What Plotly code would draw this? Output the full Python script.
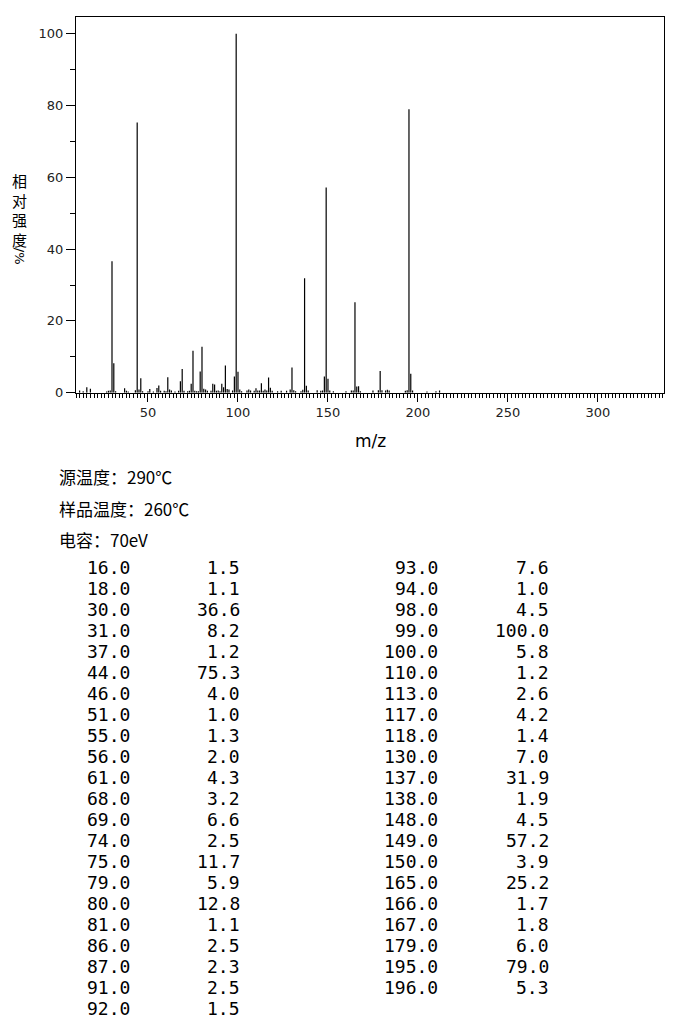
import plotly.graph_objects as go

# peaks listed in the table below the chart
mz_left = [16.0, 18.0, 30.0, 31.0, 37.0, 44.0, 46.0, 51.0, 55.0, 56.0, 61.0,
           68.0, 69.0, 74.0, 75.0, 79.0, 80.0, 81.0, 86.0, 87.0, 91.0, 92.0]
int_left = [1.5, 1.1, 36.6, 8.2, 1.2, 75.3, 4.0, 1.0, 1.3, 2.0, 4.3,
            3.2, 6.6, 2.5, 11.7, 5.9, 12.8, 1.1, 2.5, 2.3, 2.5, 1.5]
mz_right = [93.0, 94.0, 98.0, 99.0, 100.0, 110.0, 113.0, 117.0, 118.0, 130.0, 137.0,
            138.0, 148.0, 149.0, 150.0, 165.0, 166.0, 167.0, 179.0, 195.0, 196.0]
int_right = [7.6, 1.0, 4.5, 100.0, 5.8, 1.2, 2.6, 4.2, 1.4, 7.0, 31.9,
             1.9, 4.5, 57.2, 3.9, 25.2, 1.7, 1.8, 6.0, 79.0, 5.3]

# tiny peaks (< 1 %) visible on the spectrum but not in the table, estimated
minor_mz = [12, 14, 27, 28, 29, 32, 38, 39, 43, 45, 47, 50, 53, 57, 59, 60, 62, 63,
            65, 67, 70, 72, 73, 76, 77, 78, 82, 83, 85, 88, 89, 90, 95, 97, 101,
            102, 105, 106, 107, 109, 111, 112, 114, 115, 116, 119, 122, 124, 127,
            129, 131, 132, 135, 136, 139, 144, 146, 147, 151, 153, 160, 163, 164,
            168, 175, 178, 180, 182, 183, 184, 193, 194, 197, 205, 210, 212]
minor_int = [0.6, 0.4, 0.3, 0.5, 0.6, 0.4, 0.5, 0.3, 0.7, 0.9, 0.4, 0.4, 0.3, 0.5,
             0.5, 0.4, 0.9, 0.6, 0.3, 0.5, 0.5, 0.4, 0.5, 0.5, 0.4, 0.4, 0.9, 0.5,
             0.5, 0.5, 0.6, 0.4, 0.9, 0.6, 0.9, 0.4, 0.6, 0.9, 0.6, 0.5, 0.6, 0.6,
             0.5, 0.9, 0.6, 0.5, 0.4, 0.5, 0.5, 0.9, 0.7, 0.4, 0.4, 0.8, 0.6, 0.7,
             0.5, 0.6, 0.6, 0.4, 0.4, 0.6, 0.6, 0.4, 0.6, 0.7, 0.7, 0.6, 0.8, 0.6,
             0.5, 0.7, 0.6, 0.3, 0.4, 0.6]

header_lines = ["源温度：290℃", "样品温度：260℃", "电容：70eV"]
ylabel_text = "相<br>对<br>强<br>度"

W, H = 680, 1020
OFF = 8     # html body margin
SY = 0.993  # vertical squeeze seen in the screenshot
M_L, M_R, M_T, M_B = 76 - OFF, W - (664 - OFF), 17 - OFF, 2


# positions below are given in screenshot pixels
def px(x):
    return (x - OFF - M_L) / (W - M_L - M_R)


def py(y):
    y = 17 + (y - 17) / SY
    return 1 - (y - OFF - M_T) / (H - M_T - M_B)


# stick spectrum: one vertical segment per peak
xs, ys = [], []
for m, v in zip(mz_left + mz_right + minor_mz, int_left + int_right + minor_int):
    xs += [m, m, None]
    ys += [0, v, None]

fig = go.Figure(go.Scatter(x=xs, y=ys, mode="lines",
                           line=dict(color="black", width=1.2), hoverinfo="skip"))

cjk = "Noto Sans CJK SC"
mono = "DejaVu Sans Mono"
ann = []

# y axis title, stacked characters then a sideways "/%"
ann.append(dict(text=ylabel_text, x=px(19), y=py(210), font=dict(family=cjk, size=15)))
ann.append(dict(text="/%", x=px(19), y=py(256), textangle=90, font=dict(family="DejaVu Sans", size=13)))

# x axis title
ann.append(dict(text="m/z", x=px(370), y=py(441), font=dict(family="DejaVu Sans", size=17)))

# instrument info
for i, t in enumerate(header_lines):
    ann.append(dict(text=t, x=px(57), y=py(477 + 31.5 * i), xanchor="left",
                    font=dict(family=cjk, size=17)))

# peak table
for i, (m, v) in enumerate(zip(mz_left, int_left)):
    y = py(568 + 21 * i)
    ann.append(dict(text=f"{m:.1f}", x=px(132), y=y, xanchor="right", font=dict(family=mono, size=18)))
    ann.append(dict(text=f"{v:.1f}", x=px(242), y=y, xanchor="right", font=dict(family=mono, size=18)))
for i, (m, v) in enumerate(zip(mz_right, int_right)):
    y = py(568 + 21 * i)
    ann.append(dict(text=f"{m:.1f}", x=px(440), y=y, xanchor="right", font=dict(family=mono, size=18)))
    ann.append(dict(text=f"{v:.1f}", x=px(551), y=y, xanchor="right", font=dict(family=mono, size=18)))

for a in ann:
    a.update(xref="paper", yref="paper", showarrow=False)
    a.setdefault("xanchor", "center")
    a.setdefault("yanchor", "middle")
    a["font"].setdefault("color", "black")

fig.update_layout(
    width=W, height=H,
    margin=dict(l=M_L, r=M_R, t=M_T, b=M_B),
    paper_bgcolor="white", plot_bgcolor="white",
    showlegend=False,
    annotations=ann,
    xaxis=dict(range=[10, 336.7], showgrid=False, zeroline=False,
               showline=True, mirror=True, linecolor="black", linewidth=1,
               ticks="outside", ticklen=8, tickcolor="black", dtick=50, tick0=0,
               minor=dict(dtick=2, tick0=0, ticks="outside", ticklen=4, tickcolor="black"),
               tickfont=dict(family="DejaVu Sans", size=13, color="#222")),
    yaxis=dict(domain=[py(393), 1], range=[0, 104.7], showgrid=False, zeroline=False,
               showline=True, mirror=True, linecolor="black", linewidth=1,
               ticks="outside", ticklen=9, tickcolor="black", dtick=20, tick0=0,
               minor=dict(dtick=10, ticks="outside", ticklen=5, tickcolor="black"),
               tickfont=dict(family="DejaVu Sans", size=13, color="#222")),
)

fig.write_html("out.html")
